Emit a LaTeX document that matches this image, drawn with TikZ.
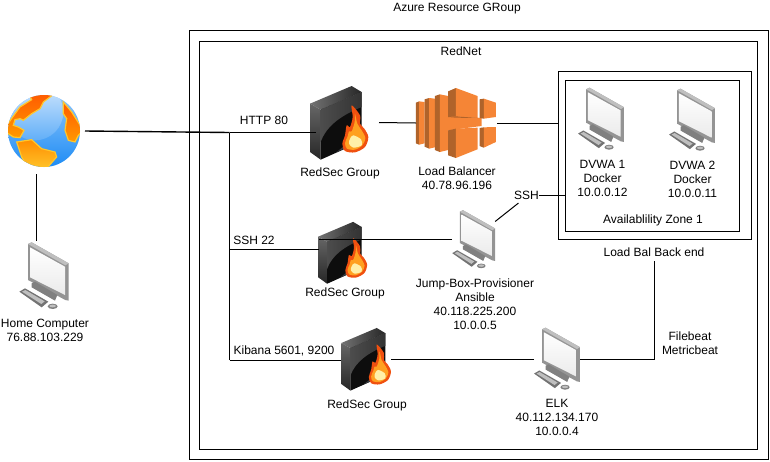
\documentclass[tikz,border=0pt]{standalone}
\usepackage{fontspec}
\setmainfont{Liberation Sans}
\usetikzlibrary{positioning}
\definecolor{lbfront}{HTML}{F58536}
\definecolor{lbside}{HTML}{B0632A}
\definecolor{globeblue}{HTML}{1E8CF5}
\definecolor{landedge}{HTML}{FFC72C}
\definecolor{flameout}{HTML}{F0500F}
\definecolor{flamemid}{HTML}{FFA020}
\definecolor{flamein}{HTML}{FFEFA8}
\tikzset{
    lbl/.style={align=center, inner sep=0pt, font=\fontsize{12}{14}\selectfont},
    iconbox/.style={inner sep=0pt, outer sep=0pt},
    groupbox/.style={draw, line width=1pt, inner sep=0pt, outer sep=0pt},
    pics/monitor/.style={code={
        \begin{scope}[scale=1/3, shift={(-132,-138)}]
        \fill[black!42] (84,42) -- (95,37) -- (206,100) -- (206,212) -- (196,210) -- (84,150) -- cycle;
        \fill[black!25] (84,42) -- (95,37) -- (206,100) -- (196,106) -- cycle;
        \shade[top color=white, bottom color=black!8] (90,52) -- (195,110) -- (195,195) -- (90,142) -- cycle;
        \fill[black!50] (95,160) -- (105,155) -- (172,195) -- (165,212) -- (95,172) -- cycle;
        \fill[black!55] (58,185) -- (75,175) -- (145,215) -- (125,232) -- cycle;
        \fill[black!25] (66,185) -- (76,180) -- (134,214) -- (124,222) -- cycle;
        \fill[black!50] (158,229) ellipse (15 and 8);
        \fill[black!25] (158,228) ellipse (10 and 4);
        \end{scope}
    }},
    pics/firewall/.style={code={
        \begin{scope}[scale=1/3, shift={(-102,-121.5)}]
        \shade[left color=black!55, right color=black!85] (15,65) -- (140,12) -- (170,30) -- (47,83) -- cycle;
        \shade[top color=black!60, bottom color=black!85] (15,65) -- (47,83) -- (47,233) -- (15,210) -- cycle;
        \fill[black!95] (47,83) -- (170,30) -- (170,178) -- (47,233) -- cycle;
        \fill[black!75!cyan!60!black] (95,210) -- (170,150) -- (170,178) -- cycle;
        \shade[left color=black!70, right color=black!80] (47,83) -- (170,30) -- (170,75) .. controls (110,100) and (65,130) .. (47,180) -- cycle;
        % flame
        \fill[flameout] plot[smooth cycle] coordinates {(140,70) (165,100) (165,125) (178,140) (190,165) (180,195) (150,211) (120,207) (112,185) (120,160) (125,130) (135,135) (143,105)};
        \fill[flamemid] plot[smooth cycle] coordinates {(150,95) (157,125) (170,145) (181,168) (172,190) (150,203) (126,200) (120,183) (128,163) (132,148) (140,148) (149,120)};
        \fill[flamein] plot[smooth cycle] coordinates {(145,160) (168,172) (170,190) (145,197) (132,185) (135,170)};
        \end{scope}
    }},
    pics/balancer/.style={code={
        \begin{scope}[scale=1/3, shift={(-140,-123)}]
        % left bars
        \fill[lbside] (18,62) -- (28,58) -- (28,188) -- (18,184) -- cycle;
        \fill[lbfront] (28,58) -- (44,60) -- (44,184) -- (28,188) -- cycle;
        \fill[lbside] (44,52) -- (58,48) -- (58,200) -- (44,194) -- cycle;
        \fill[lbfront] (58,48) -- (75,50) -- (75,196) -- (58,200) -- cycle;
        \fill[lbside] (75,42) -- (90,37) -- (90,210) -- (75,204) -- cycle;
        \fill[lbfront] (90,37) -- (115,42) -- (115,204) -- (90,210) -- cycle;
        % middle blocks
        \fill[lbfront] (115,100) -- (215,108) -- (215,132) -- (115,145) -- cycle;
        \fill[lbside] (115,28) -- (138,18) -- (138,103) -- (115,105) -- cycle;
        \fill[lbfront] (138,18) -- (203,42) -- (203,108) -- (138,103) -- cycle;
        \fill[lbside] (115,105) -- (138,103) -- (203,108) -- (138,107) -- cycle;
        \fill[lbside] (115,145) -- (138,140) -- (138,228) -- (115,220) -- cycle;
        \fill[lbfront] (138,140) -- (203,137) -- (203,202) -- (138,228) -- cycle;
        % right blocks
        \fill[lbside] (209,52) -- (222,50) -- (222,110) -- (209,108) -- cycle;
        \fill[lbfront] (222,50) -- (258,62) -- (258,105) -- (222,110) -- cycle;
        \fill[lbside] (209,138) -- (222,136) -- (222,197) -- (209,192) -- cycle;
        \fill[lbfront] (222,136) -- (258,135) -- (258,180) -- (222,197) -- cycle;
        \end{scope}
    }},
    pics/earth/.style={code={
        \begin{scope}[scale=1/3, shift={(-132,-152)}]
        \clip (132,152) circle (108);
        \shade[top color=globeblue!50!white, bottom color=globeblue] (132,152) circle (108);
        \shade[top color=white!80!globeblue, bottom color=globeblue!70!white] (105,95) circle (85);
        % land
        \shade[top color=orange!70!red, bottom color=orange!80!yellow, draw=landedge, line width=1.2pt] (10,150) -- (38,110) -- (60,80) -- (95,58) -- (85,40) -- (170,35) -- (130,65) -- (120,85) -- (95,100) -- (70,120) -- (60,115) -- (45,118) -- (40,135) -- (55,140) -- (72,150) -- (60,172) -- (40,170) -- cycle;
        \shade[top color=orange!70!red, bottom color=orange!80!yellow, draw=landedge, line width=1.2pt] (190,65) -- (215,95) -- (250,150) -- (235,165) -- (225,185) -- (205,180) -- (195,150) -- (200,115) -- (190,100) -- cycle;
        \shade[top color=orange!90!yellow, bottom color=landedge, draw=landedge, line width=1.2pt] (50,185) -- (95,178) -- (125,205) -- (165,215) -- (170,230) -- (135,270) -- (85,265) -- (65,230) -- cycle;
        \end{scope}
    }}
}
\begin{document}
\begin{tikzpicture}[x=1pt, y=-1pt, line width=1pt]
\useasboundingbox (0,0) rectangle (770,461);

% resource group and network boxes
\node[groupbox, minimum width=579pt, minimum height=429pt] (azure) at (478.5,244.5) {};
\node[groupbox, minimum width=558pt, minimum height=408pt] (rednet) at (478,245) {};
\node[groupbox, minimum width=193pt, minimum height=168pt] (backend) at (654.5,155) {};
\node[groupbox, minimum width=174pt, minimum height=151pt] (zone) at (652,155.5) {};

% icons
\node[iconbox, minimum width=82pt, minimum height=86pt] (globe) at (44,131) {};
\node[iconbox, minimum width=50pt, minimum height=70pt] (home) at (44,276) {};
\node[iconbox, minimum width=63pt, minimum height=73pt] (fwa) at (347.5,122.5) {};
\node[iconbox, minimum width=47pt, minimum height=61pt] (fwb) at (342.5,252.5) {};
\node[iconbox, minimum width=50pt, minimum height=62pt] (fwc) at (366,359) {};
\node[iconbox, minimum width=81pt, minimum height=70pt] (lb) at (456.5,123) {};
\node[iconbox, minimum width=48pt, minimum height=62pt] (dvwaa) at (601,119) {};
\node[iconbox, minimum width=46pt, minimum height=62pt] (dvwab) at (692,120) {};
\node[iconbox, minimum width=43pt, minimum height=59pt] (jump) at (473.7,239.5) {};
\node[iconbox, minimum width=46pt, minimum height=62pt] (elk) at (557,359) {};

\pic at (globe) {earth};
\pic at (home) {monitor};
\pic at (339,122.5) {firewall};
\pic[scale=0.84] at (fwb) {firewall};
\pic[scale=0.85] at (fwc) {firewall};
\pic at (lb) {balancer};
\pic[scale=0.93] at (dvwaa) {monitor};
\pic[scale=0.93] at (dvwab) {monitor};
\pic[scale=0.87] at (jump) {monitor};
\pic[scale=0.93] at (elk) {monitor};

% labels
\node[lbl] (azurelbl) at (457,9) {Azure Resource GRoup};
\node[lbl] (rednetlbl) at (461,51) {RedNet};
\node[lbl] (httplbl) at (264,120.5) {HTTP 80};
\node[lbl] (sshport) at (254,240) {SSH 22};
\node[lbl] (kibanalbl) at (284,351) {Kibana 5601, 9200};
\node[lbl] (fwalbl) at (340,173.5) {RedSec Group};
\node[lbl] (fwblbl) at (345,293) {RedSec Group};
\node[lbl] (fwclbl) at (367,405) {RedSec Group};
\node[lbl] (lblbl) at (457,178.5) {Load Balancer\\40.78.96.196};
\node[lbl] (homelbl) at (45,330.5) {Home Computer\\76.88.103.229};
\node[lbl] (jumplbl) at (475,304) {Jump-Box-Provisioner\\Ansible\\40.118.225.200\\10.0.0.5};
\node[lbl] (elklbl) at (557,417) {ELK\\40.112.134.170\\10.0.0.4};
\node[lbl] (dvwaalbl) at (602.5,178) {DVWA 1\\Docker\\10.0.0.12};
\node[lbl] (dvwablbl) at (692.5,179.5) {DVWA 2\\Docker\\10.0.0.11};
\node[lbl] (zonelbl) at (653,220.5) {Availablility Zone 1};
\node[lbl, inner ysep=3.3pt] (backlbl) at (654,252.5) {Load Bal Back end};
\node[lbl] (beatlbl) at (690,343) {Filebeat\\Metricbeat};
\node[lbl, inner ysep=3.3pt] (sshlbl) at (526.5,195) {SSH};

% connectors
\coordinate (httpjoin) at (229.5,132.5);
\coordinate (sshjoin) at (229.5,249.5);
\coordinate (kibjoin) at (229.5,360);
\draw[line width=1.4pt] (globe.east) -- (httpjoin);
\draw (httpjoin) -- (httpjoin -| fwa.west);
\draw (httpjoin) -- (kibjoin);
\draw (sshjoin) -- (sshjoin -| fwb.west);
\draw (kibjoin) -- (kibjoin -| fwc.west);
\draw (globe.-100) -- (globe.-100 |- home.north);
\draw (fwa.east) -- (lb.west);
\draw (lb.east) -- (lb.east -| backend.west);
\draw (jump.west) -- (jump.west -| fwb.west);
\draw (elk.west) -- (elk.west -| fwc.east);
\draw (elk.east) -| (backlbl.south);
\draw (sshlbl.-135) -- (jump.40);
\draw (sshlbl.east) -- (sshlbl.east -| zone.west);
\end{tikzpicture}
\end{document}
